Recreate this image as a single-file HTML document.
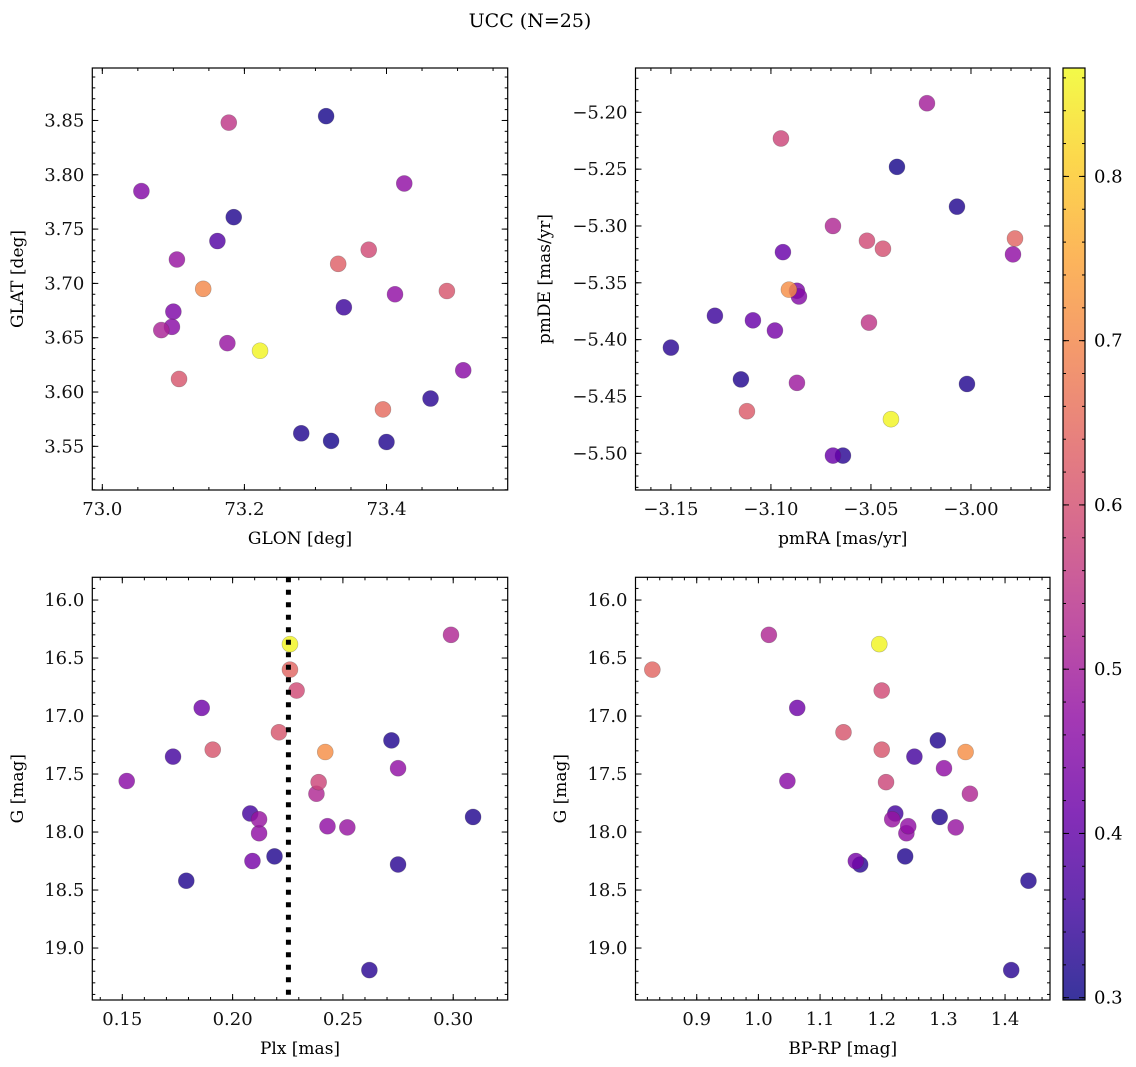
<!DOCTYPE html>
<html><head><meta charset="utf-8"><style>
html,body{margin:0;padding:0;background:#fff;}
svg{display:block;font-family:"DejaVu Serif","Liberation Serif",serif;}
</style></head><body>
<svg id="fig" width="1136" height="1067" viewBox="0 0 1136 1067" xmlns="http://www.w3.org/2000/svg">
<defs>
<linearGradient id="plasma" x1="0" y1="1" x2="0" y2="0">
<stop offset="0" stop-color="#0d0887"/><stop offset="0.1" stop-color="#41049d"/><stop offset="0.2" stop-color="#6a00a8"/><stop offset="0.3" stop-color="#8f0da4"/><stop offset="0.4" stop-color="#b12a90"/><stop offset="0.5" stop-color="#cc4778"/><stop offset="0.6" stop-color="#e16462"/><stop offset="0.7" stop-color="#f2844b"/><stop offset="0.8" stop-color="#fca636"/><stop offset="0.9" stop-color="#fcce25"/><stop offset="1" stop-color="#f0f921"/>
</linearGradient>
</defs>
<text x="530" y="27" font-size="19" text-anchor="middle">UCC (N=25)</text>
</svg>
<script>
// ---- Data ----
const glon = [73.055,73.178,73.315,73.425,73.185,73.162,73.105,73.375,73.332,73.142,73.412,73.485,73.34,73.100,73.083,73.098,73.176,73.222,73.108,73.508,73.462,73.395,73.28,73.322,73.40];
const glat = [3.785,3.848,3.854,3.792,3.761,3.739,3.722,3.731,3.718,3.695,3.690,3.693,3.678,3.674,3.657,3.660,3.645,3.638,3.612,3.620,3.594,3.584,3.562,3.555,3.554];
const cPos = [0.45,0.55,0.31,0.47,0.32,0.38,0.48,0.59,0.63,0.70,0.47,0.61,0.35,0.44,0.51,0.46,0.48,0.86,0.61,0.46,0.33,0.65,0.32,0.31,0.32];
const pmra = [-3.022,-3.095,-3.037,-3.007,-3.069,-3.052,-3.044,-2.978,-2.979,-3.094,-3.091,-3.087,-3.086,-3.128,-3.109,-3.098,-3.051,-3.150,-3.115,-3.087,-3.002,-3.112,-3.040,-3.069,-3.064];
const pmde = [-5.192,-5.223,-5.248,-5.283,-5.300,-5.313,-5.320,-5.311,-5.325,-5.323,-5.356,-5.357,-5.362,-5.379,-5.383,-5.392,-5.385,-5.407,-5.435,-5.438,-5.439,-5.463,-5.470,-5.502,-5.502];
const cPm = [0.50,0.58,0.31,0.32,0.52,0.59,0.60,0.64,0.47,0.41,0.71,0.44,0.45,0.35,0.41,0.43,0.55,0.33,0.32,0.49,0.32,0.62,0.86,0.41,0.33];
const plx = [0.226,0.299,0.226,0.229,0.186,0.221,0.191,0.242,0.272,0.173,0.275,0.152,0.239,0.238,0.208,0.212,0.212,0.243,0.252,0.309,0.209,0.219,0.275,0.179,0.262];
const bprp = [1.196,1.017,0.828,1.200,1.063,1.138,1.200,1.336,1.291,1.253,1.301,1.047,1.207,1.343,1.222,1.217,1.240,1.243,1.320,1.294,1.158,1.238,1.165,1.438,1.410];
const gmag = [16.38,16.30,16.60,16.78,16.93,17.14,17.29,17.31,17.21,17.35,17.45,17.56,17.57,17.67,17.84,17.89,18.01,17.95,17.96,17.87,18.25,18.21,18.28,18.42,19.19];
const cPhot = [0.86,0.52,0.64,0.59,0.42,0.61,0.61,0.71,0.32,0.36,0.47,0.46,0.58,0.52,0.36,0.48,0.47,0.47,0.48,0.32,0.43,0.32,0.33,0.32,0.33];
const plxMedian = [0.2253];
const cbTicks = [0.3,0.4,0.5,0.6,0.7,0.8];

const NS='http://www.w3.org/2000/svg';
const svg=document.getElementById('fig');
const VMIN=0.2986, VMAX=0.866;
const stops=[[13,8,135],[65,4,157],[106,0,168],[143,13,164],[177,42,144],[204,71,120],[225,100,98],[242,132,75],[252,166,54],[252,206,37],[240,249,33]];
function plasma(v){let t=(v-VMIN)/(VMAX-VMIN);t=Math.max(0,Math.min(1,t));const f=t*10;const i=Math.min(9,Math.floor(f));const r=f-i;const a=stops[i],b=stops[i+1];
return 'rgb('+a.map((x,k)=>Math.round(x+(b[k]-x)*r)).join(',')+')';}
function el(tag,attrs,parent){const e=document.createElementNS(NS,tag);for(const k in attrs)e.setAttribute(k,attrs[k]);(parent||svg).appendChild(e);return e;}
function fmt(v,d){let s=v.toFixed(d);return s.replace('-','\u2212');}
function ticks(a,b,step){const lo=Math.min(a,b),hi=Math.max(a,b);const out=[];let s=Math.ceil(lo/step-1e-6);for(let k=s;k*step<=hi+1e-9;k++)out.push(+(k*step).toFixed(6));return out;}

function panel(cfg){
  const g=el('g',{});
  
  
  const {L,R,T,B,x0,x1,y0,y1}=cfg;
  const sx=v=>L+(v-x0)/(x1-x0)*(R-L);
  const sy=v=>B-(v-y0)/(y1-y0)*(B-T);
  const tg=el('g',{stroke:'#000','stroke-width':1},g);
  
  
  ticks(x0,x1,cfg.xmin).forEach(v=>{const x=sx(v);el('line',{x1:x,x2:x,y1:B,y2:B-3},tg);el('line',{x1:x,x2:x,y1:T,y2:T+3},tg);});
  ticks(y0,y1,cfg.ymin).forEach(v=>{const y=sy(v);el('line',{x1:L,x2:L+3,y1:y,y2:y},tg);el('line',{x1:R,x2:R-3,y1:y,y2:y},tg);});
  ticks(x0,x1,cfg.xmaj).forEach(v=>{const x=sx(v);el('line',{x1:x,x2:x,y1:B,y2:B-6},tg);el('line',{x1:x,x2:x,y1:T,y2:T+6},tg);
    const t=el('text',{x:x,y:B+25,'font-size':18,'text-anchor':'middle',stroke:'none',fill:'#111'},g);t.textContent=fmt(v,cfg.xd);
    
    });
  ticks(y0,y1,cfg.ymaj).forEach(v=>{const y=sy(v);el('line',{x1:L,x2:L+6,y1:y,y2:y},tg);el('line',{x1:R,x2:R-6,y1:y,y2:y},tg);
    const t=el('text',{x:L-8,y:y+6,'font-size':18,'text-anchor':'end',fill:'#111'},g);t.textContent=fmt(v,cfg.yd);
    
    });
  const pts=cfg.xs.map((x,i)=>i).sort((a,b)=>cfg.cs[a]-cfg.cs[b]);
  pts.forEach(i=>{const c=el('circle',{cx:sx(cfg.xs[i]),cy:sy(cfg.ys[i]),r:8,fill:plasma(cfg.cs[i]),'fill-opacity':0.82,stroke:'rgba(60,60,60,0.35)','stroke-width':0.6},g);
    
    });
  if(cfg.vline!==undefined){const x=sx(cfg.vline);const ln=el('line',{x1:x,x2:x,y1:T,y2:B,stroke:'#000','stroke-width':5,'stroke-dasharray':'5,7.5'},g);
    
    }
  const fr=el('rect',{x:L,y:T,width:R-L,height:B-T,fill:'none',stroke:'#000','stroke-width':1.2},g);
  
  
  const xl=el('text',{x:(L+R)/2,y:B+54,'font-size':17,'text-anchor':'middle'},g);xl.textContent=cfg.xlabel;
  
  
  const yx=cfg.ylx, yy=(T+B)/2;
  const yl=el('text',{x:yx,y:yy,'font-size':17,'text-anchor':'middle',transform:'rotate(-90 '+yx+' '+yy+')'},g);yl.textContent=cfg.ylabel;
  
  
}

panel({name:'glon-glat-panel',L:92.3,R:507.7,T:68,B:490,x0:72.9859,x1:73.5706,y0:3.5098,y1:3.8983,xmaj:0.2,xmin:0.05,ymaj:0.05,ymin:0.01,xd:1,yd:2,xs:glon,ys:glat,cs:cPos,xlabel:'GLON [deg]',ylabel:'GLAT [deg]',ylx:23});
panel({name:'pm-panel',L:635.5,R:1050,T:68,B:490,x0:-3.1677,x1:-2.9605,y0:-5.5323,y1:-5.1610,xmaj:0.05,xmin:0.01,ymaj:0.05,ymin:0.01,xd:2,yd:2,xs:pmra,ys:pmde,cs:cPm,xlabel:'pmRA [mas/yr]',ylabel:'pmDE [mas/yr]',ylx:550});
panel({name:'plx-g-panel',L:92.3,R:507.7,T:577.3,B:1000,x0:0.1364,x1:0.3247,y0:19.448,y1:15.804,xmaj:0.05,xmin:0.01,ymaj:0.5,ymin:0.1,xd:2,yd:1,xs:plx,ys:gmag,cs:cPhot,xlabel:'Plx [mas]',ylabel:'G [mag]',ylx:23,vline:plxMedian[0]});
panel({name:'cmd-panel',L:635.5,R:1050,T:577.3,B:1000,x0:0.8007,x1:1.4729,y0:19.448,y1:15.804,xmaj:0.1,xmin:0.02,ymaj:0.5,ymin:0.1,xd:1,yd:1,xs:bprp,ys:gmag,cs:cPhot,xlabel:'BP-RP [mag]',ylabel:'G [mag]',ylx:566});

const cb=el('g',{});


const CL=1063,CR=1085,CT=68,CB=1000;
el('rect',{x:CL,y:CT,width:CR-CL,height:CB-CT,fill:'url(#plasma)','fill-opacity':0.82},cb);
const cyv=v=>CB-(v-VMIN)/(VMAX-VMIN)*(CB-CT);
for(let k=Math.ceil(VMIN/0.02);k*0.02<=VMAX;k++){const y=cyv(k*0.02);el('line',{x1:CL,x2:CL+3,y1:y,y2:y,stroke:'#000'},cb);el('line',{x1:CR,x2:CR-3,y1:y,y2:y,stroke:'#000'},cb);}
cbTicks.forEach(v=>{const y=cyv(v);el('line',{x1:CL,x2:CL+6,y1:y,y2:y,stroke:'#000'},cb);el('line',{x1:CR,x2:CR-6,y1:y,y2:y,stroke:'#000'},cb);
  const t=el('text',{x:CR+9,y:y+6,'font-size':18},cb);t.textContent=v.toFixed(1);
  
  });
el('rect',{x:CL,y:CT,width:CR-CL,height:CB-CT,fill:'none',stroke:'#000','stroke-width':1.2},cb);
</script>
</body></html>
